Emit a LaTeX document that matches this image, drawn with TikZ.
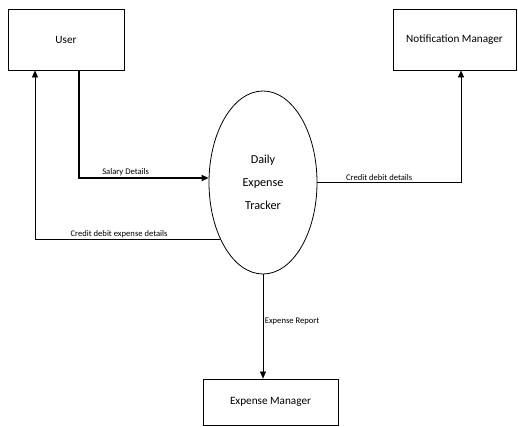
\documentclass[tikz,border=0pt]{standalone}
\usepackage{fontspec}
\setmainfont{Carlito}
\usetikzlibrary{arrows.meta}
\usetikzlibrary{shapes.geometric}

\tikzset{
  entity/.style={rectangle, draw, line width=0.8pt, inner sep=0pt, font=\fontsize{11.2}{13}\selectfont},
  process/.style={ellipse, draw, line width=0.8pt, inner sep=0pt, align=center, font=\fontsize{12.2}{23}\selectfont},
  flow/.style={draw, line width=0.6pt, -{Triangle[length=7pt, width=6pt]}},
  flowlabel/.style={font=\fontsize{8.6}{10}\selectfont, inner sep=1.5pt}
}

\begin{document}
\begin{tikzpicture}[x=1pt, y=-1pt]
      \useasboundingbox (0,0) rectangle (518,427);

      \node[entity, minimum width=116pt, minimum height=61pt] (user) at (66,39.5) {User};
      \node[entity, minimum width=123pt, minimum height=61pt] (notif) at (454.5,39.5) {Notification Manager};
      \node[process, minimum width=108pt, minimum height=183pt] (tracker) at (263,182.5) {Daily\\Expense\\Tracker};
      \node[entity, minimum width=135pt, minimum height=46pt] (expmgr) at (270.5,402) {Expense Manager};

      \coordinate (salary) at (79,178);
      \coordinate (back) at (35,239);
      \coordinate (notify) at (461,182.5);

      \draw[flow, line width=1.4pt] (user.south -| salary) |- (tracker.west |- salary)
        node[flowlabel, pos=0.68, above] {Salary Details};
      \draw[flow] (tracker.233) -| (back |- user.south)
        node[flowlabel, pos=0.273, above] {Credit debit expense details};
      \draw[flow] (tracker.east) -| (notify |- notif.south)
        node[flowlabel, pos=0.215, above] {Credit debit details};
      \draw[flow] (tracker.south) -- (expmgr.north -| tracker.south)
        node[flowlabel, pos=0.45, right] {Expense Report};
    \end{tikzpicture}
\end{document}
